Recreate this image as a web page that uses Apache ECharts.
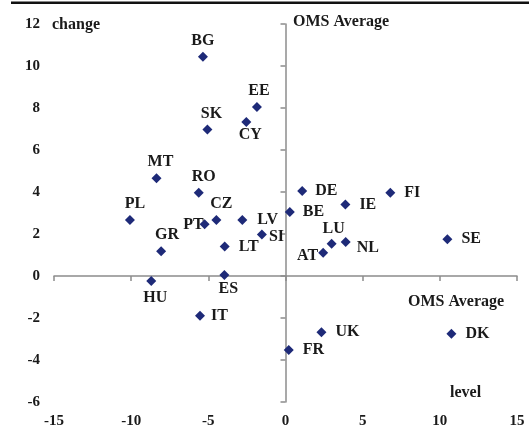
<!DOCTYPE html>
<html>
<head>
<meta charset="utf-8">
<script src="https://cdn.jsdelivr.net/npm/echarts@6/dist/echarts.min.js"></script>
<style>
html,body{margin:0;padding:0;background:#fff;}
#chart{width:529px;height:438px;}
</style>
</head>
<body>
<div id="chart"></div>
<script>
// Data
var countries = ['BG','EE','SK','CY','MT','RO','PL','CZ','LV','PT','SI','GR','LT','HU','ES','IT','DE','FI','IE','BE','LU','NL','AT','SE','UK','DK','FR'];
var level = [-5.35,-1.85,-5.06,-2.54,-8.36,-5.62,-10.08,-4.48,-2.8,-5.24,-1.53,-8.06,-3.94,-8.7,-3.96,-5.54,1.08,6.79,3.88,0.28,2.99,3.9,2.44,10.49,2.33,10.75,0.21];
var change = [10.44,8.05,6.98,7.33,4.65,3.97,2.67,2.67,2.67,2.46,1.98,1.18,1.41,-0.24,0.05,-1.89,4.05,3.97,3.41,3.05,1.54,1.62,1.11,1.75,-2.68,-2.75,-3.52];
var xTicks = {min:-15, max:15, step:5};
var yTicks = {min:-6, max:12, step:2};

// Label placement (style only): [position, distance, dx, dy]
var labelPlace = {
  BG:['top',3,0,0], EE:['top',3,2,0], SK:['top',3,4,0], CY:['bottom',2,4,-2], MT:['top',3,4,0], RO:['top',3,5,0],
  PL:['top',3,5,0], CZ:['top',3,5,0], LV:['right',10,0,0], PT:['left',-4,0,1], SI:['right',2,0,2],
  GR:['top',3,6,0], LT:['right',7,2,0], HU:['bottom',4,4,0], ES:['bottom',3,4,-2], IT:['right',6,0,0],
  DE:['right',8,0,0], FI:['right',9,0,0], IE:['right',9,0,0], BE:['right',8,0,0], LU:['top',2,2,0], NL:['right',6,0,6],
  AT:['left',0,0,3], SE:['right',9,0,0], UK:['right',9,0,0], DK:['right',9,0,0], FR:['right',9,0,0]
};

var font = 'Liberation Serif';
var txtColor = '#1a1a1a';
var axisColor = '#8c8c8c';

var points = countries.map(function(c,i){
  return {name: c, value: [level[i], change[i]],
    label: {position: labelPlace[c][0], distance: labelPlace[c][1]}};
});

var chart = echarts.init(document.getElementById('chart'), null, {renderer:'canvas'});
var labelStyle = {fontFamily: font, fontWeight: 'bold', fontSize: 15, color: txtColor};

chart.setOption({
  animation: false,
  backgroundColor: '#fff',
  grid: {left: 54, right: 12, top: 24, bottom: 36, containLabel: false, outerBoundsMode: 'none'},
  xAxis: [
    {type:'value', min:xTicks.min, max:xTicks.max, interval:xTicks.step, position:'bottom',
     axisLine:{show:false, onZero:false}, axisTick:{show:false}, splitLine:{show:false},
     axisLabel: Object.assign({margin:12}, labelStyle)},
    {type:'value', min:xTicks.min, max:xTicks.max, interval:xTicks.step, position:'bottom',
     axisLine:{show:true, onZero:true, lineStyle:{color:axisColor, width:1.5}},
     axisTick:{show:true, length:5, lineStyle:{color:axisColor, width:1.5}},
     axisLabel:{show:false}, splitLine:{show:false}}
  ],
  yAxis: [
    {type:'value', min:yTicks.min, max:yTicks.max, interval:yTicks.step, position:'left',
     axisLine:{show:false, onZero:false}, axisTick:{show:false}, splitLine:{show:false},
     axisLabel: Object.assign({margin:14}, labelStyle)},
    {type:'value', min:yTicks.min, max:yTicks.max, interval:yTicks.step, position:'left',
     axisLine:{show:true, onZero:true, lineStyle:{color:axisColor, width:1.5}},
     axisTick:{show:true, length:5, lineStyle:{color:axisColor, width:1.5}},
     axisLabel:{show:false}, splitLine:{show:false}}
  ],
  series: [{
    type: 'scatter',
    xAxisIndex: 0, yAxisIndex: 0,
    symbol: 'diamond',
    symbolSize: 10,
    itemStyle: {color: '#1e2a78', opacity: 1},
    label: {show: true, formatter: '{b}', fontFamily: font, fontWeight: 'bold', fontSize: 16, color: txtColor, opacity: 1},
    labelLayout: function (p) {
      var lp = labelPlace[countries[p.dataIndex]];
      return {dx: lp[2], dy: lp[3], hideOverlap: false};
    },
    data: points
  }],
  graphic: [
    {type:'rect', shape:{x:11, y:1.5, width:518, height:2.5}, style:{fill:'#111'}},
    {type:'text', x:52, y:17, style:{text:'change', font:'bold 16px "Liberation Serif"', fill:txtColor}},
    {type:'text', x:293, y:14, style:{text:'OMS Average', font:'bold 16px "Liberation Serif"', fill:txtColor}},
    {type:'text', x:408, y:294, style:{text:'OMS Average', font:'bold 16px "Liberation Serif"', fill:txtColor}},
    {type:'text', x:450, y:385, style:{text:'level', font:'bold 16px "Liberation Serif"', fill:txtColor}}
  ]
});
</script>
</body>
</html>
